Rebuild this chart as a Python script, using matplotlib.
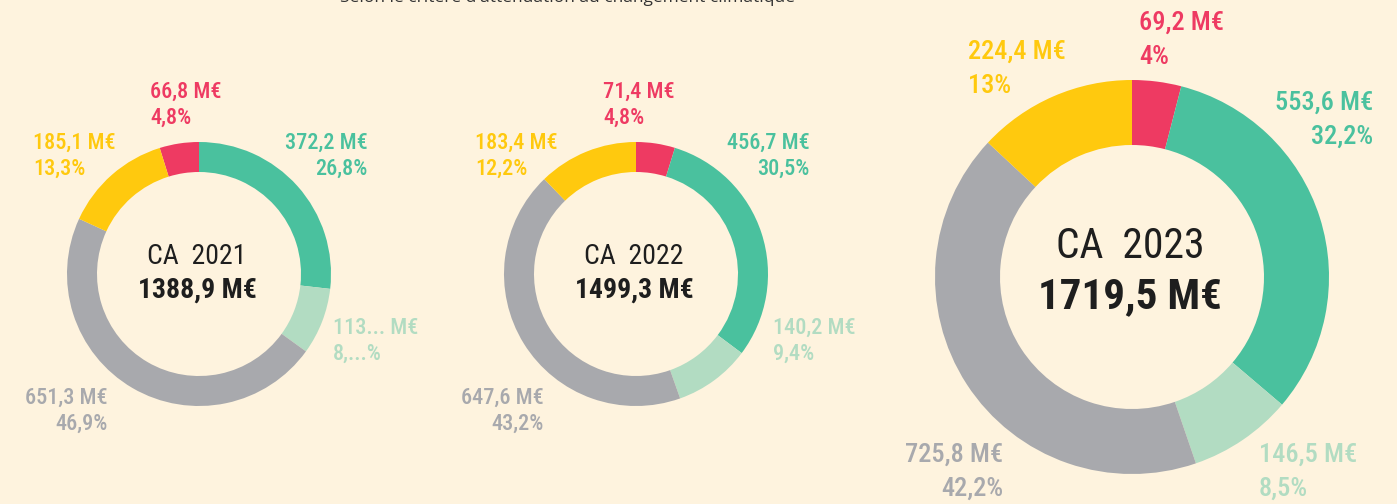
import matplotlib
matplotlib.use('Agg')
import matplotlib.pyplot as plt
from matplotlib import font_manager

# =============================================
# Data
# =============================================

years = ['2021', '2022', '2023']
totals = ['1388,9 M€', '1499,3 M€', '1719,5 M€']

# order: clockwise
segments = ['rouge', 'vert', 'vert clair', 'gris', 'jaune']
ca_2021 = [66.8, 372.2, 113.5, 651.3, 185.1]
ca_2022 = [71.4, 456.7, 140.2, 647.6, 183.4]
ca_2023 = [69.2, 553.6, 146.5, 725.8, 224.4]

amounts_2021 = ['66,8 M€', '372,2 M€', '113... M€', '651,3 M€', '185,1 M€']
amounts_2022 = ['71,4 M€', '456,7 M€', '140,2 M€', '647,6 M€', '183,4 M€']
amounts_2023 = ['69,2 M€', '553,6 M€', '146,5 M€', '725,8 M€', '224,4 M€']

pcts_2021 = ['4,8%', '26,8%', '8,...%', '46,9%', '13,3%']
pcts_2022 = ['4,8%', '30,5%', '9,4%', '43,2%', '12,2%']
pcts_2023 = ['4%', '32,2%', '8,5%', '42,2%', '13%']

title = "Selon le critère d'atténuation au changement climatique"

# =============================================
# Style
# =============================================

BG = '#FEF3DE'
colors = ['#EE3A62', '#4AC19E', '#B2DCC2', '#A8A9AD', '#FFC90E']
DARK = '#1E1E1E'

avail = {f.name for f in font_manager.fontManager.ttflist}
FONT = 'DejaVu Sans'
for cand in ['Roboto Condensed', 'Liberation Sans Narrow', 'Roboto']:
    if cand in avail:
        FONT = cand
        break

W, H = 1397, 504

# layout in pixels (x, y from top); red_before_top: red wedge ends at 12 o'clock
donuts = [
    dict(cx=199, cy=274, R=132, r=102, fs=16, cfs=(20, 20), cy_txt=(257, 290), dy=26,
         red_before_top=True,
         lab=[(150, 92, 'left'), (368, 143, 'right'), (333, 328, 'left'),
              (108, 398, 'right'), (33, 143, 'left')]),
    dict(cx=636, cy=274, R=132, r=102, fs=16, cfs=(20, 20), cy_txt=(257, 290), dy=26,
         red_before_top=False,
         lab=[(603, 92, 'left'), (810, 143, 'right'), (773, 328, 'left'),
              (544, 398, 'right'), (475, 143, 'left')]),
    dict(cx=1132, cy=277, R=197, r=132, fs=19, cfs=(30, 31), cy_txt=(247, 297), dy=34,
         red_before_top=False,
         lab=[(1139, 23, 'left'), (1373, 103, 'right'), (1259, 455, 'left'),
              (1003, 455, 'right'), (968, 52, 'left')]),
]

values = [ca_2021, ca_2022, ca_2023]
amounts = [amounts_2021, amounts_2022, amounts_2023]
pcts = [pcts_2021, pcts_2022, pcts_2023]

# =============================================
# Plot
# =============================================

fig = plt.figure(figsize=(W / 100, H / 100), dpi=100, facecolor=BG)
ax = fig.add_axes([0, 0, 1, 1])
ax.set_facecolor(BG)

for i, d in enumerate(donuts):
    start = 90
    if d['red_before_top']:
        start = 90 + 360 * values[i][0] / sum(values[i])
    ax.pie(values[i], colors=colors, startangle=start, counterclock=False,
           center=(d['cx'], H - d['cy']), radius=d['R'],
           wedgeprops=dict(width=d['R'] - d['r'], linewidth=0))
    for j in range(len(segments)):
        x, y, ha = d['lab'][j]
        ax.text(x, H - y, amounts[i][j], ha=ha, va='center', color=colors[j],
                fontsize=d['fs'], family=FONT, fontweight='medium')
        ax.text(x, H - y - d['dy'], pcts[i][j], ha=ha, va='center', color=colors[j],
                fontsize=d['fs'], family=FONT, fontweight='medium')
    ax.text(d['cx'] - 2, H - d['cy_txt'][0], 'CA  ' + years[i], ha='center', va='center',
            color=DARK, fontsize=d['cfs'][0], family=FONT)
    ax.text(d['cx'] - 2, H - d['cy_txt'][1], totals[i], ha='center', va='center',
            color=DARK, fontsize=d['cfs'][1], family=FONT, fontweight='bold')

ax.text(568, H + 2, title, ha='center', va='center', color='#333333',
        fontsize=12.5, family='Open Sans')

ax.set_xlim(0, W)
ax.set_ylim(0, H)
ax.set_aspect('equal')
ax.axis('off')

fig.savefig('out.png', dpi=100, facecolor=BG)
